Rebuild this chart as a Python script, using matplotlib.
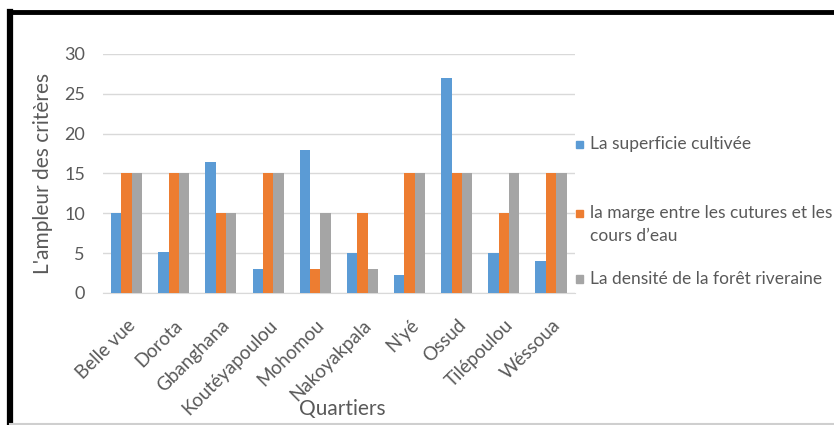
import numpy as np
import matplotlib.pyplot as plt
from matplotlib.lines import Line2D

# --------------------------------------------------
# Data
# --------------------------------------------------
quartiers = ["Belle vue", "Dorota", "Gbanghana", "Koutéyapoulou", "Mohomou",
             "Nakoyakpala", "N'yé", "Ossud", "Tilépoulou", "Wéssoua"]
superficie = [10, 5.2, 16.5, 3, 18, 5, 2.3, 27, 5, 4]
marge = [15, 15, 10, 15, 3, 10, 15, 15, 10, 15]
densite = [15, 15, 10, 15, 10, 3, 15, 15, 15, 15]

series_labels = ["La superficie cultivée",
                 "la marge entre les cutures et les\ncours d\u2019eau",
                 "La densité de la forêt riveraine"]
colors = ["#5B9BD5", "#ED7D31", "#A5A5A5"]
txt_col = "#595959"

plt.rcParams['font.family'] = ['Lato', 'DejaVu Sans']

fig = plt.figure(figsize=(8.34, 4.25), dpi=100)
ax = fig.add_axes([0.1235, 0.3106, 0.5655, 0.5624])

x = np.arange(len(quartiers))
w = 0.22
for i, vals in enumerate([superficie, marge, densite]):
    ax.bar(x + (i - 1) * w, vals, width=w, color=colors[i],
           label=series_labels[i], zorder=3)

ax.set_xlim(-0.5, len(quartiers) - 0.5)
ax.set_ylim(0, 30)
ax.set_yticks(range(0, 31, 5))
ax.yaxis.grid(True, color="#D9D9D9", linewidth=1, zorder=0)
for s in ["top", "right", "left"]:
    ax.spines[s].set_visible(False)
ax.spines["bottom"].set_color("#D9D9D9")
ax.tick_params(length=0, colors=txt_col, labelsize=13)
ax.tick_params(axis="y", pad=13)
ax.tick_params(axis="x", pad=17, labelsize=13.5)

ax.set_xticks(x)
ax.set_xticklabels(quartiers, rotation=45, ha="right", rotation_mode="anchor")

ax.set_ylabel("L'ampleur des critères", color=txt_col, fontsize=15, labelpad=8)
# x axis title sits low in the frame, placed by hand
fig.text(342 / 834, 1 - 409 / 425, "Quartiers", color=txt_col, fontsize=15,
         ha="center", va="center")

# legend on the right, entries spread out like the original
ys = [0.661, 0.499, 0.344]
line_h = 23 / 425
for y, lab, c in zip(ys, series_labels, colors):
    fig.patches.append(plt.Rectangle((0.691, y - 0.009), 0.0085, 0.017,
                                     transform=fig.transFigure, color=c))
    for k, part in enumerate(lab.split("\n")):
        fig.text(0.708, y - k * line_h, part, fontsize=12.5, color=txt_col,
                 va="center")

# black frame from the screenshot
fig.add_artist(Line2D([0.0125, 0.0125], [0.0, 0.972], color="black", lw=4.5,
                      transform=fig.transFigure, solid_capstyle="projecting"))
fig.add_artist(Line2D([0.0125, 1.0], [0.972, 0.972], color="black", lw=3.5,
                      transform=fig.transFigure))
fig.add_artist(Line2D([0.0125, 1.0], [0.002, 0.002], color="#CFCFCF", lw=1.5,
                      transform=fig.transFigure))

fig.savefig("out.png", dpi=100)
